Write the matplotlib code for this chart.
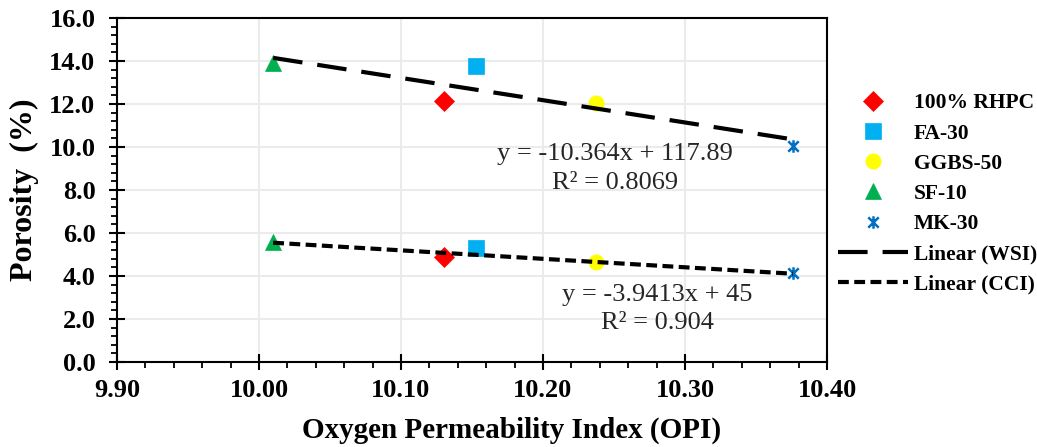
import matplotlib
matplotlib.use("Agg")
import matplotlib.pyplot as plt
import numpy as np
from matplotlib.path import Path
from matplotlib.ticker import MultipleLocator, FormatStrFormatter

# ---- data ----
mixes = ["100% RHPC", "FA-30", "GGBS-50", "SF-10", "MK-30"]
opi = [10.13, 10.153, 10.237, 10.01, 10.376]
wsi = [12.15, 13.75, 12.05, 13.9, 10.05]
cci = [4.88, 5.30, 4.65, 5.58, 4.12]
wsi_fit = (-10.364, 117.89)
cci_fit = (-3.9413, 45.0)
wsi_eq = ["y = -10.364x + 117.89", "R² = 0.8069"]
cci_eq = ["y = -3.9413x + 45", "R² = 0.904"]
xticks = [9.90, 10.00, 10.10, 10.20, 10.30, 10.40]
yticks = [0, 2, 4, 6, 8, 10, 12, 14, 16]

star = Path([(-1, -1), (1, 1), (-1, 1), (1, -1), (0, -1.2), (0, 1.2)],
            [Path.MOVETO, Path.LINETO, Path.MOVETO, Path.LINETO, Path.MOVETO, Path.LINETO])
styles = [
    dict(marker="D", color="#FF0000", ms=10),
    dict(marker="s", color="#00B0F0", ms=11),
    dict(marker="o", color="#FFFF00", ms=11),
    dict(marker="^", color="#00B050", ms=11),
    dict(marker=star, color="#0070C0", ms=9, mew=1.8),
]

plt.rcParams["font.family"] = ["Liberation Serif", "DejaVu Serif"]

fig = plt.figure(figsize=(10.37, 4.47), dpi=100)
ax = fig.add_axes([0.1128, 0.1902, 0.6847, 0.7695])

handles = []
for name, x, a, b, st in zip(mixes, opi, wsi, cci, styles):
    kw = dict(linestyle="none", marker=st["marker"], ms=st["ms"],
              markerfacecolor=st["color"], markeredgecolor=st["color"],
              markeredgewidth=st.get("mew", 0.5), zorder=3)
    h, = ax.plot([x], [a], label=name, **kw)
    ax.plot([x], [b], **kw)
    handles.append(h)

xs = np.array([min(opi), max(opi)])
h1, = ax.plot(xs, wsi_fit[0] * xs + wsi_fit[1], color="black", lw=3,
              dashes=(7.1, 3.6), label="Linear (WSI)", zorder=4)
h2, = ax.plot(xs, cci_fit[0] * xs + cci_fit[1], color="black", lw=3,
              dashes=(2.6, 1.3), label="Linear (CCI)", zorder=4)
handles += [h1, h2]

ax.text(10.2507, 9.0, wsi_eq[0] + "\n" + wsi_eq[1], ha="center", va="center",
        fontsize=19, color="#262626", linespacing=1.36)
ax.text(10.2803, 2.45, cci_eq[0] + "\n" + cci_eq[1], ha="center", va="center",
        fontsize=19, color="#262626", linespacing=1.36)

ax.set_xlim(9.90, 10.40)
ax.set_ylim(0, 16)
ax.set_xticks(xticks)
ax.set_yticks(yticks)
ax.xaxis.set_major_formatter(FormatStrFormatter("%.2f"))
ax.yaxis.set_major_formatter(FormatStrFormatter("%.1f"))
ax.xaxis.set_minor_locator(MultipleLocator(0.02))
ax.yaxis.set_minor_locator(MultipleLocator(0.4))
ax.tick_params(which="major", direction="inout", length=11, width=1.5, labelsize=19)
ax.tick_params(which="minor", direction="out", length=4, width=1.3)
ax.tick_params(axis="y", which="major", pad=10)
ax.tick_params(axis="x", which="major", pad=7)
for lab in ax.get_xticklabels() + ax.get_yticklabels():
    lab.set_fontweight("bold")
ax.grid(True, which="major", color="#EBEBEB", lw=1.5, zorder=0)
ax.set_axisbelow(True)
for sp in ax.spines.values():
    sp.set_linewidth(1.5)

ax.set_xlabel("Oxygen Permeability Index (OPI)", fontsize=21, fontweight="bold")
ax.xaxis.set_label_coords(0.556, -0.158)
ax.set_ylabel("Porosity  (%)", fontsize=23, fontweight="bold")
ax.yaxis.set_label_coords(-0.110, 0.5)

fig.legend(handles=handles, loc="center left", bbox_to_anchor=(0.808, 0.566),
           frameon=False, prop=dict(weight="bold", size=15.5), handlelength=3.25,
           handletextpad=0.28, labelspacing=0.47, borderpad=0, borderaxespad=0)

fig.savefig("out.png", dpi=100)
